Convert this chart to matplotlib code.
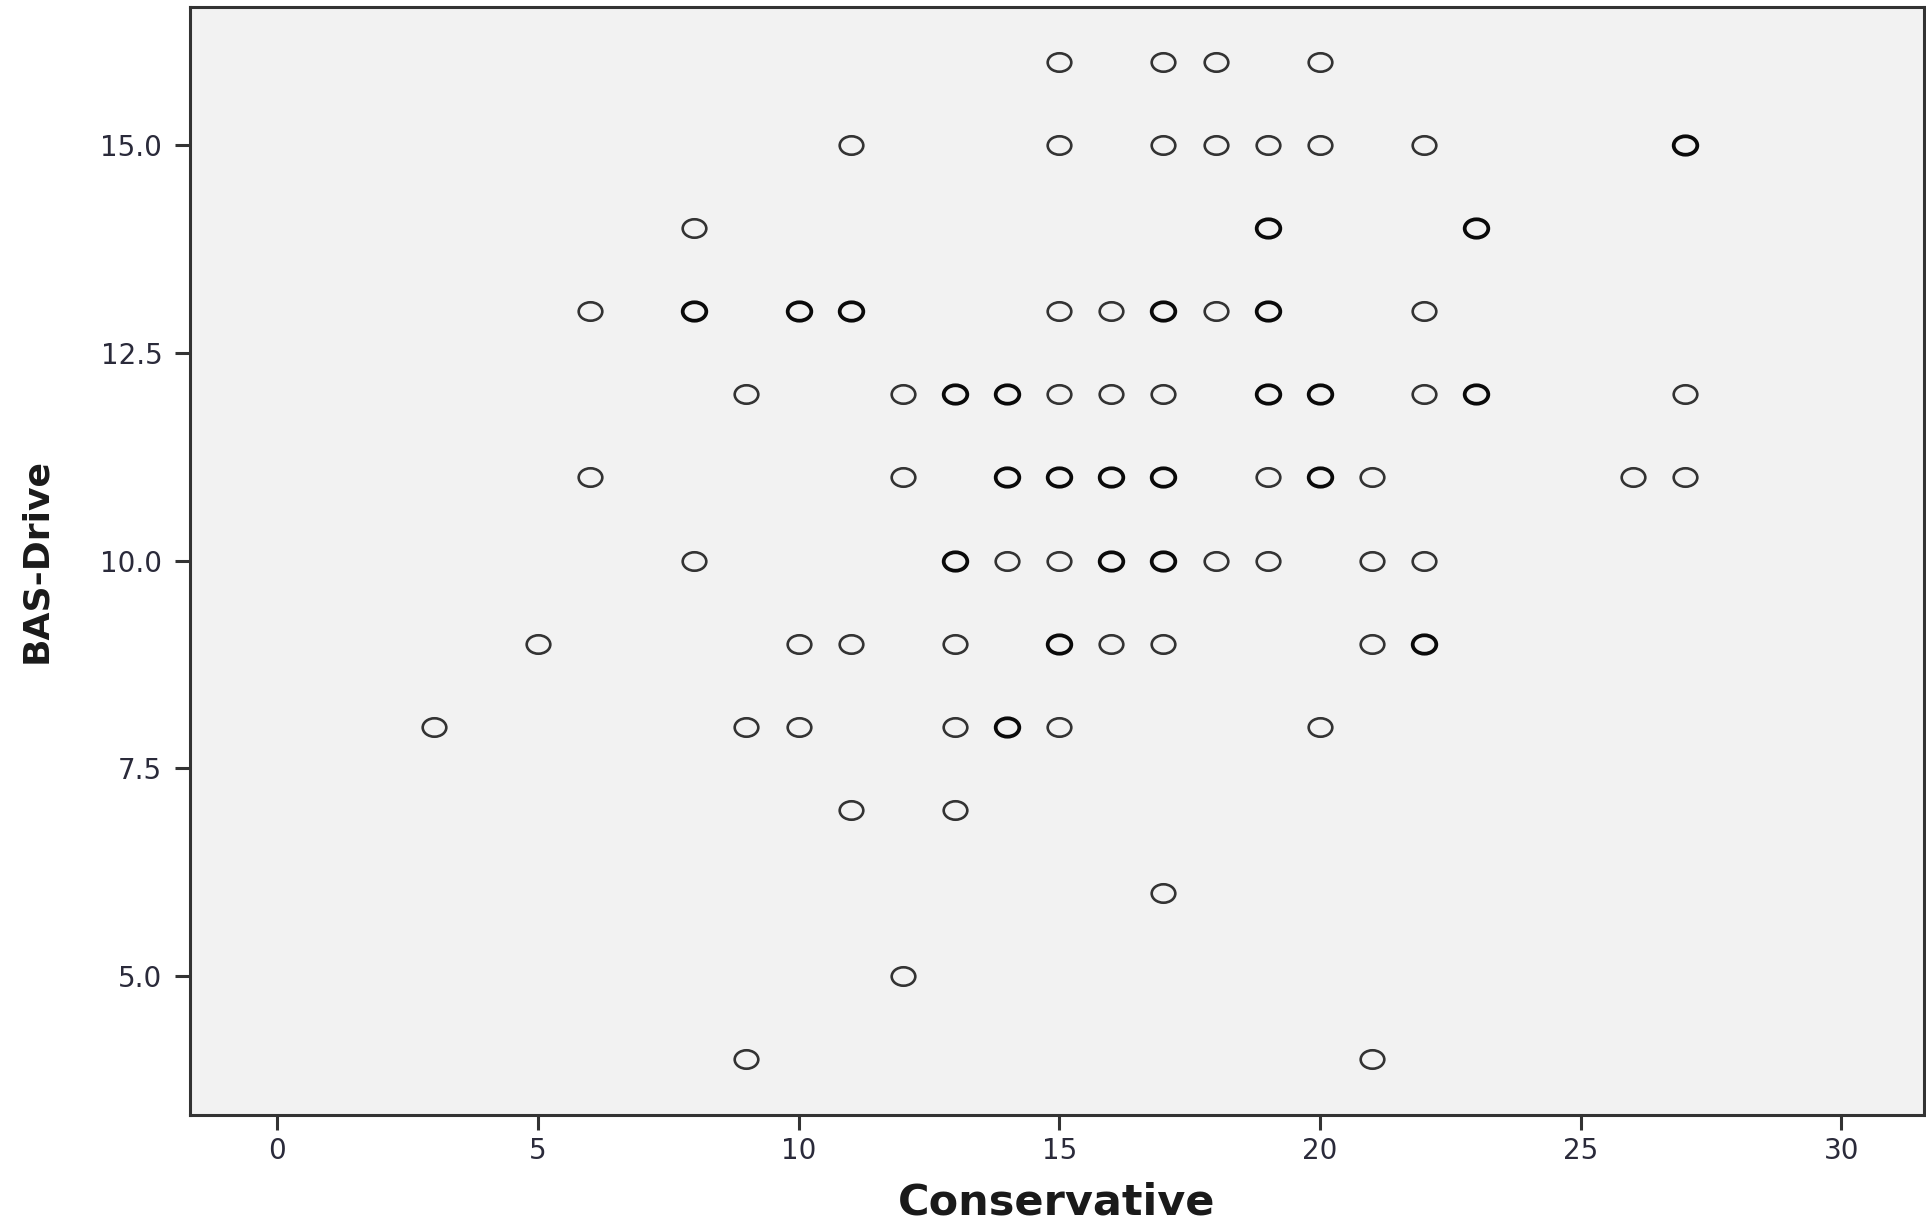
import pandas as pd
import matplotlib
matplotlib.use("Agg")
import matplotlib.pyplot as plt
from matplotlib.path import Path
from matplotlib.transforms import Affine2D

# one entry per case, repeated values are cases that sit on top of each other
conservative = [
    15, 17, 18, 20,                                              # 16
    11, 15, 17, 18, 19, 20, 22, 27, 27,                          # 15
    8, 19, 19, 23, 23,                                           # 14
    6, 8, 8, 10, 10, 11, 11, 15, 16, 17, 17, 18, 19, 19, 22,     # 13
    9, 12, 13, 13, 14, 14, 15, 16, 17, 19, 19, 20, 20, 22, 23, 23, 27,  # 12
    6, 12, 14, 14, 15, 15, 16, 16, 17, 17, 19, 20, 20, 21, 26, 27,      # 11
    8, 13, 13, 14, 15, 16, 16, 17, 17, 18, 19, 21, 22,           # 10
    5, 10, 11, 13, 15, 15, 16, 17, 21, 22, 22,                   # 9
    3, 9, 10, 13, 14, 14, 15, 20,                                # 8
    11, 13,                                                      # 7
    17,                                                          # 6
    12,                                                          # 5
    9, 21,                                                       # 4
]
bas_drive = (
    [16] * 4 + [15] * 9 + [14] * 5 + [13] * 15 + [12] * 17 + [11] * 16
    + [10] * 13 + [9] * 11 + [8] * 8 + [7] * 2 + [6] * 1 + [5] * 1 + [4] * 2
)

x_ticks = [0, 5, 10, 15, 20, 25, 30]
y_ticks = [5.0, 7.5, 10.0, 12.5, 15.0]

df = pd.DataFrame({"x": conservative, "y": bas_drive})
counts = df.groupby(["x", "y"]).size().reset_index(name="n")
single = counts[counts["n"] == 1]
multi = counts[counts["n"] > 1]

# SPSS rings come out a little wider than tall
ring = Path.unit_circle().transformed(Affine2D().scale(1.0, 0.78))

fig = plt.figure(figsize=(19.26, 12.25), dpi=100)
ax = fig.add_axes([0.0987, 0.0898, 0.9003, 0.9045])
ax.set_facecolor("#f2f2f2")

ax.plot(single["x"], single["y"], linestyle="none", marker=ring, markersize=17,
        markerfacecolor="none", markeredgecolor="#333333", markeredgewidth=1.9)
ax.plot(multi["x"], multi["y"], linestyle="none", marker=ring, markersize=17,
        markerfacecolor="none", markeredgecolor="#0a0a0a", markeredgewidth=2.7)

ax.set_xlim(-1.67, 31.59)
ax.set_ylim(3.33, 16.66)
ax.set_xticks(x_ticks)
ax.set_xticklabels([str(t) for t in x_ticks])
ax.set_yticks(y_ticks)
ax.set_yticklabels([f"{t:.1f}" for t in y_ticks])

for side in ["left", "bottom", "top", "right"]:
    ax.spines[side].set_color("#333333")
    ax.spines[side].set_linewidth(2.2)

ax.tick_params(axis="both", direction="out", length=11, width=2.2, color="#333333",
               labelsize=20, labelcolor="#2a2a3a", pad=5)
ax.tick_params(axis="y", pad=9)

ax.set_xlabel("Conservative", fontsize=31, fontweight="bold", color="#1a1a1a", labelpad=12)
ax.set_ylabel("BAS-Drive", fontsize=26, fontweight="bold", color="#1a1a1a", labelpad=34)

fig.savefig("out.png", dpi=100)
plt.close(fig)
